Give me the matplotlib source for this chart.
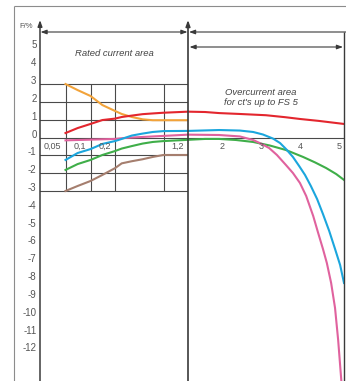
import numpy as np
import matplotlib
matplotlib.use("Agg")
import matplotlib.pyplot as plt
from matplotlib.lines import Line2D
from matplotlib.patches import FancyArrowPatch, ArrowStyle
from matplotlib.ticker import NullLocator
import matplotlib.transforms as mtransforms

plt.rcParams['font.family'] = ['Liberation Sans', 'DejaVu Sans']

# ---------------- data ----------------
y_ticks = [5, 4, 3, 2, 1, 0, -1, -2, -3, -4, -5, -6, -7, -8, -9, -10, -11, -12]
y_tick_labels = [str(v) for v in y_ticks]

rated_x_ticks = [0.05, 0.1, 0.2, 1.2]
rated_x_labels = ["0,05", "0,1", "0,2", "1,2"]
rated_grid_x = [0.05, 0.1, 0.2, 1.0]
rated_grid_y = [3, 2, 1, 0, -1, -2, -3]

over_x_ticks = [2, 3, 4, 5]
over_x_labels = ["2", "3", "4", "5"]

# rated current area (x = I / In)
rated_x = [0.05, 0.07, 0.1, 0.14, 0.2, 0.25, 0.35, 0.5, 0.7, 1.0, 1.2]
limit_upper = [3.0, 2.66, 2.33, 1.82, 1.49, 1.32, 1.15, 1.02, 0.97, 0.97, 0.97]
limit_lower = [-3.0, -2.72, -2.44, -2.1, -1.72, -1.45, -1.33, -1.22, -1.09, -0.98, -0.98]
red_rated = [0.25, 0.53, 0.76, 0.98, 1.06, 1.15, 1.23, 1.31, 1.35, 1.39, 1.45]
pink_rated = [-0.16, -0.14, -0.12, -0.1, -0.08, -0.04, 0.0, 0.03, 0.06, 0.09, 0.16]
cyan_rated = [-1.26, -0.87, -0.65, -0.36, -0.2, -0.08, 0.11, 0.22, 0.31, 0.36, 0.37]
green_rated = [-1.82, -1.49, -1.26, -0.98, -0.76, -0.62, -0.48, -0.34, -0.25, -0.2, -0.13]

# overcurrent area
red_over_x = [1.2, 1.64, 2.0, 2.53, 3.2, 3.69, 4.07, 4.56, 5.2]
red_over = [1.45, 1.43, 1.37, 1.32, 1.25, 1.14, 1.04, 0.93, 0.76]
cyan_over_x = [1.2, 2.0, 2.53, 2.87, 3.12, 3.38, 3.56, 3.71, 3.89, 4.05, 4.2, 4.35,
               4.51, 4.66, 4.82, 4.97, 5.1, 5.2]
cyan_over = [0.37, 0.42, 0.39, 0.31, 0.17, -0.06, -0.31, -0.64, -1.09, -1.6, -2.1, -2.72,
             -3.45, -4.29, -5.24, -6.25, -7.15, -8.16]
pink_over_x = [1.2, 2.0, 2.53, 2.87, 3.07, 3.28, 3.48, 3.71, 3.89, 4.07, 4.23, 4.41,
               4.53, 4.66, 4.76, 4.87, 4.97, 5.05, 5.1, 5.14]
pink_over = [0.16, 0.14, 0.06, -0.14, -0.34, -0.59, -0.98, -1.54, -1.99, -2.55, -3.28, -4.4,
             -5.3, -6.25, -7.04, -8.16, -9.56, -11.36, -12.76, -13.88]
green_over_x = [1.2, 1.64, 2.0, 2.43, 2.87, 3.3, 3.71, 4.15, 4.46, 4.74, 5.0, 5.2]
green_over = [-0.13, -0.08, -0.08, -0.14, -0.25, -0.45, -0.70, -1.09, -1.40, -1.71, -2.05, -2.38]

# ---------------- layout ----------------
W, H, DPI = 346, 381, 100
fig = plt.figure(figsize=(W / DPI, H / DPI), dpi=DPI)
fig.patch.set_facecolor('white')

def fx(px):
    return px / W

def fy(py):
    return 1 - py / H

AX_TOP = 22
YLIM = (-13.66, 6.48)

# non-uniform rated-current axis (piecewise log)
LOGN = np.log10([0.025, 0.05, 0.1, 0.2, 1.0, 1.2])
POSN = np.array([0.0, 25.5, 50.5, 75.0, 123.5, 148.0])

def _pw(v, xp, fp):
    v = np.asarray(v, float)
    out = np.interp(v, xp, fp)
    out = np.where(v < xp[0], fp[0] + (v - xp[0]) * (fp[1] - fp[0]) / (xp[1] - xp[0]), out)
    out = np.where(v > xp[-1], fp[-1] + (v - xp[-1]) * (fp[-1] - fp[-2]) / (xp[-1] - xp[-2]), out)
    return out

def fwd(x):
    return _pw(np.log10(np.clip(np.asarray(x, float), 1e-9, None)), LOGN, POSN)

def inv(p):
    return 10 ** _pw(p, POSN, LOGN)

axL = fig.add_axes([fx(40), 0, fx(148), (H - AX_TOP) / H])
axR = fig.add_axes([fx(188), 0, fx(156), (H - AX_TOP) / H])
for ax in (axL, axR):
    ax.set_facecolor('none')
    for s in ax.spines.values():
        s.set_visible(False)
    ax.set_ylim(*YLIM)

axL.set_xscale('function', functions=(fwd, inv))
axL.set_xlim(0.025, 1.2)
axL.set_xticks([])
axL.xaxis.set_minor_locator(NullLocator())
axR.set_xlim(1.2, 5.2)
axR.set_xticks([])
axR.set_yticks([])

# y tick labels
axL.set_yticks(y_ticks)
axL.set_yticklabels(y_tick_labels)
axL.tick_params(axis='y', length=0, pad=2.5, labelsize=7, labelcolor='#555555')
for lbl in axL.get_yticklabels():
    lbl.set_verticalalignment('baseline')
axL.yaxis.set_minor_locator(NullLocator())

GRID_C = '#4a4a4a'
for v in rated_grid_y:
    axL.axhline(v, color=GRID_C, lw=0.8, zorder=1)
axL.vlines(rated_grid_x, -3, 3, color=GRID_C, lw=0.8, zorder=1)
axR.axhline(0, color=GRID_C, lw=0.8, zorder=1)

# curves
LW = 1.5
C_OR, C_RED, C_PINK, C_CY, C_GR, C_BR = '#F2A33A', '#E3262E', '#E0629E', '#1BA6DD', '#3FAE49', '#A57E6E'
axL.plot(rated_x, limit_upper, color=C_OR, lw=LW, zorder=3)
axL.plot(rated_x, limit_lower, color=C_BR, lw=LW, zorder=3)
axL.plot(rated_x, green_rated, color=C_GR, lw=LW, zorder=3)
axL.plot(rated_x, pink_rated, color=C_PINK, lw=LW, zorder=3)
axL.plot(rated_x, cyan_rated, color=C_CY, lw=LW, zorder=4)
axL.plot(rated_x, red_rated, color=C_RED, lw=LW, zorder=5)

axR.plot(green_over_x, green_over, color=C_GR, lw=LW, zorder=3)
axR.plot(pink_over_x, pink_over, color=C_PINK, lw=LW, zorder=3)
axR.plot(cyan_over_x, cyan_over, color=C_CY, lw=LW, zorder=4)
axR.plot(red_over_x, red_over, color=C_RED, lw=LW, zorder=5)

# x labels
offL = mtransforms.ScaledTranslation(-4 / DPI, -4 / DPI, fig.dpi_scale_trans)
for xv, lab in zip(rated_x_ticks, rated_x_labels):
    axL.text(xv, 0, lab, ha='right', va='top', fontsize=6.5, color='#555555',
             transform=axL.transData + offL, zorder=6)
offR = mtransforms.ScaledTranslation(3 / DPI, -4 / DPI, fig.dpi_scale_trans)
for xv, lab in zip(over_x_ticks, over_x_labels):
    axR.text(xv, 0, lab, ha='center', va='top', fontsize=6.5, color='#555555',
             transform=axR.transData + offR, zorder=6)

# ---------------- structural lines & arrows ----------------
LINE_C = '#3a3a3a'

def line(p1, p2, color=LINE_C, lw=1.0):
    fig.add_artist(Line2D([fx(p1[0]), fx(p2[0])], [fy(p1[1]), fy(p2[1])],
                          color=color, lw=lw, transform=fig.transFigure,
                          solid_capstyle='butt'))

def arrow(p1, p2, style, lw=0.9):
    st = ArrowStyle(style, head_length=3.6, head_width=1.3)
    fig.add_artist(FancyArrowPatch((fx(p1[0]), fy(p1[1])), (fx(p2[0]), fy(p2[1])),
                                   arrowstyle=st, mutation_scale=1, shrinkA=0, shrinkB=0,
                                   color=LINE_C, lw=lw, transform=fig.transFigure))

# outer frame
line((14, 6), (346, 6), color='#8c8c8c', lw=0.8)
line((14, 6), (14, 381), color='#8c8c8c', lw=0.8)

# axis / boundary verticals with arrowheads
arrow((40, 381), (40, 20), '-|>', lw=1.1)
arrow((188, 381), (188, 20), '-|>', lw=1.2)
line((344, 32), (344, 381), lw=1.0)

# range arrows
arrow((40.5, 32), (187.5, 32), '<|-|>', lw=0.8)
arrow((189, 32), (346, 32), '<|-', lw=0.8)
arrow((189.5, 47), (343, 47), '<|-|>', lw=0.8)

# texts
fig.text(fx(26), fy(27), 'F/%', fontsize=5.5, color='#555555', ha='center', va='center')
fig.text(fx(114), fy(53), 'Rated current area', fontsize=6.8, style='italic',
         color='#444444', ha='center', va='center')
fig.text(fx(261), fy(97.5), "Overcurrent area\nfor ct's up to FS 5", fontsize=6.8,
         style='italic', color='#444444', ha='center', va='center', linespacing=1.1)

fig.savefig('out.png', dpi=DPI, facecolor='white')
